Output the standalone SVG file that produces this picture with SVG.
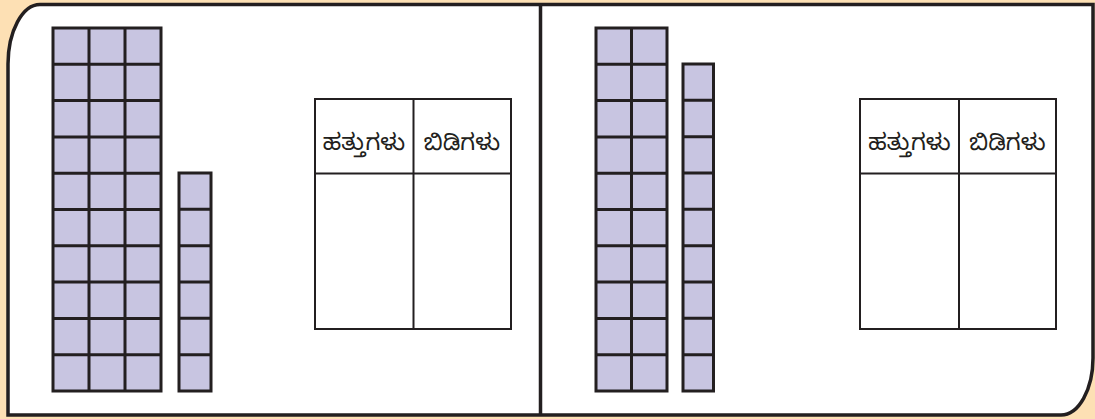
<svg xmlns="http://www.w3.org/2000/svg" width="1095" height="419" viewBox="0 0 1095 419">
<style>
.cell{fill:#c8c5e1;stroke:#231f20;stroke-width:3}
.grid{fill:none;stroke:#231f20;stroke-width:3}
.tbl{fill:#fff;stroke:#231f20;stroke-width:2}
.ln{stroke:#231f20;stroke-width:2}
.lbl{font-family:"Noto Sans Kannada","Noto Sans",sans-serif;font-size:23px;fill:#231f20;text-anchor:middle}
</style>
<rect width="1095" height="419" fill="#fde0b4"/>
<path d="M40 4.5H1093V358A32 57 0 0 1 1061 415H8V64A32 60 0 0 1 40 4.5Z" fill="#fff" stroke="#231f20" stroke-width="3.5"/>
<line x1="540.5" y1="4" x2="540.5" y2="415" stroke="#231f20" stroke-width="3.5"/>

<g id="left-tens">
<rect x="53" y="28" width="108" height="363" class="cell"/>
<path d="M89 28V391M125 28V391" class="grid"/>
<path d="M53 64.3H161M53 100.6H161M53 136.9H161M53 173.2H161M53 209.5H161M53 245.8H161M53 282.1H161M53 318.4H161M53 354.7H161" class="grid"/>
</g>
<g id="left-ones">
<rect x="179" y="173" width="32" height="218" class="cell"/>
<path d="M179 209.3H211M179 245.7H211M179 282H211M179 318.3H211M179 354.7H211" class="grid"/>
</g>
<g id="left-table">
<rect x="315" y="99" width="196" height="230" class="tbl"/>
<line x1="413.5" y1="99" x2="413.5" y2="329" class="ln"/>
<line x1="315" y1="173.5" x2="511" y2="173.5" class="ln"/>
<text x="364" y="150" class="lbl">ಹತ್ತುಗಳು</text>
<text x="462" y="150" class="lbl">ಬಿಡಿಗಳು</text>
</g>

<g id="right-tens">
<rect x="596" y="28" width="71" height="363" class="cell"/>
<path d="M631.5 28V391" class="grid"/>
<path d="M596 64.3H667M596 100.6H667M596 136.9H667M596 173.2H667M596 209.5H667M596 245.8H667M596 282.1H667M596 318.4H667M596 354.7H667" class="grid"/>
</g>
<g id="right-ones">
<rect x="683" y="64" width="30.5" height="327" class="cell"/>
<path d="M683 100.3H713.5M683 136.7H713.5M683 173H713.5M683 209.3H713.5M683 245.7H713.5M683 282H713.5M683 318.3H713.5M683 354.7H713.5" class="grid"/>
</g>
<g id="right-table">
<rect x="860" y="99" width="196" height="230" class="tbl"/>
<line x1="959" y1="99" x2="959" y2="329" class="ln"/>
<line x1="860" y1="173.5" x2="1056" y2="173.5" class="ln"/>
<text x="909.5" y="150" class="lbl">ಹತ್ತುಗಳು</text>
<text x="1007.5" y="150" class="lbl">ಬಿಡಿಗಳು</text>
</g>
</svg>
